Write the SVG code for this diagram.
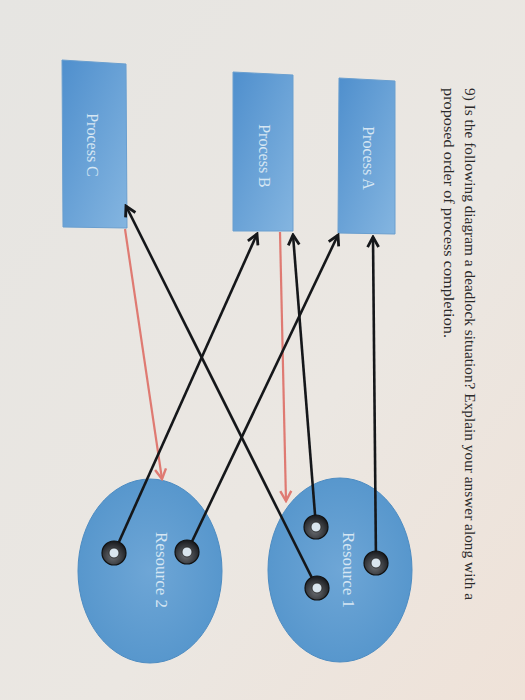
<svg xmlns="http://www.w3.org/2000/svg" width="525" height="700" viewBox="0 0 525 700">
<defs>
  <linearGradient id="paper" x1="0" y1="0" x2="1" y2="1">
    <stop offset="0" stop-color="#e6e5e2"/>
    <stop offset="0.6" stop-color="#ebe7e2"/>
    <stop offset="1" stop-color="#efe2d8"/>
  </linearGradient>
  <linearGradient id="boxfill" x1="0" y1="0" x2="1" y2="1">
    <stop offset="0" stop-color="#4f8fcd"/>
    <stop offset="1" stop-color="#84b5e0"/>
  </linearGradient>
  <radialGradient id="resfill" cx="0.5" cy="0.5" r="0.6">
    <stop offset="0" stop-color="#6ea6d6"/>
    <stop offset="1" stop-color="#5394cb"/>
  </radialGradient>
  <radialGradient id="ringfill" cx="0.45" cy="0.65" r="0.6">
    <stop offset="0" stop-color="#6b6e73"/>
    <stop offset="1" stop-color="#1d1f23"/>
  </radialGradient>
  <marker id="ab" markerUnits="userSpaceOnUse" markerWidth="14" markerHeight="14" viewBox="0 0 14 14" refX="12" refY="7" orient="auto">
    <path d="M2,1.5 L12,7 L2,12.5" fill="none" stroke="#15171a" stroke-width="2.8" stroke-linejoin="miter"/>
  </marker>
  <marker id="ar" markerUnits="userSpaceOnUse" markerWidth="14" markerHeight="14" viewBox="0 0 14 14" refX="12" refY="7" orient="auto">
    <path d="M2,1.5 L12,7 L2,12.5" fill="none" stroke="#df7a72" stroke-width="2.4"/>
  </marker>
</defs>
<style>
  .box { fill: url(#boxfill); stroke: #6a9fcf; stroke-width: 1; }
  .res { fill: url(#resfill); stroke: #4d8cc2; stroke-width: 1; }
  .lbl { font-family: "Liberation Serif", "DejaVu Serif", serif; font-size: 16px; fill: #d6e6f3; text-anchor: middle; dominant-baseline: central; }
  .q { font-family: "Liberation Serif", "DejaVu Serif", serif; font-size: 15.5px; fill: #2b2a2a; }
  .blk { stroke: #15171a; stroke-width: 2.6; fill: none; marker-end: url(#ab); }
  .red { stroke: #df7a72; stroke-width: 2.2; fill: none; marker-end: url(#ar); }
  .ring { fill: url(#ringfill); stroke: #111; stroke-width: 1.2; }
  .hole { fill: #d9e5ee; stroke: #222; stroke-width: 0.8; }
</style>
<rect x="0" y="0" width="525" height="700" fill="url(#paper)"/>

<g id="question">
  <text class="q" transform="translate(465,88) rotate(90)" textLength="512" lengthAdjust="spacingAndGlyphs">9) Is the following diagram a deadlock situation? Explain your answer along with a</text>
  <text class="q" transform="translate(444,88) rotate(90)" textLength="250" lengthAdjust="spacingAndGlyphs">proposed order of process completion.</text>
</g>

<g id="process-c">
  <polygon class="box" points="62,60 126,64 127,228 63,227"/>
  <text class="lbl" transform="translate(92,145) rotate(90)">Process C</text>
</g>
<g id="process-b">
  <polygon class="box" points="233,72 293,75 293,231 233,231"/>
  <text class="lbl" transform="translate(264,156) rotate(90)">Process B</text>
</g>
<g id="process-a">
  <polygon class="box" points="339,78 395,81 395,234 338,233"/>
  <text class="lbl" transform="translate(368,158) rotate(90)">Process A</text>
</g>

<g id="resource-2">
  <ellipse class="res" cx="150" cy="571" rx="72" ry="92"/>
  <text class="lbl" transform="translate(161,570) rotate(90)" style="font-size:17px">Resource 2</text>
</g>
<g id="resource-1">
  <ellipse class="res" cx="340" cy="570" rx="72" ry="92"/>
  <text class="lbl" transform="translate(348,570) rotate(90)" style="font-size:17px">Resource 1</text>
</g>

<g id="connectors">
  <line class="red" x1="125" y1="229" x2="162" y2="479"/>
  <line class="red" x1="280" y1="232" x2="286" y2="501"/>
  <line class="blk" x1="317" y1="588" x2="126" y2="206"/>
  <line class="blk" x1="114" y1="553" x2="257" y2="234"/>
  <line class="blk" x1="316" y1="527" x2="293" y2="235"/>
  <line class="blk" x1="187" y1="552" x2="338" y2="235"/>
  <line class="blk" x1="376" y1="563" x2="373" y2="237"/>
</g>

<g id="instances">
  <circle class="ring" cx="114" cy="553" r="12"/><circle class="hole" cx="114" cy="553" r="5"/>
  <circle class="ring" cx="187" cy="552" r="12"/><circle class="hole" cx="187" cy="552" r="5"/>
  <circle class="ring" cx="316" cy="527" r="12"/><circle class="hole" cx="316" cy="527" r="5"/>
  <circle class="ring" cx="317" cy="588" r="12"/><circle class="hole" cx="317" cy="588" r="5"/>
  <circle class="ring" cx="376" cy="563" r="12"/><circle class="hole" cx="376" cy="563" r="5"/>
</g>
</svg>
